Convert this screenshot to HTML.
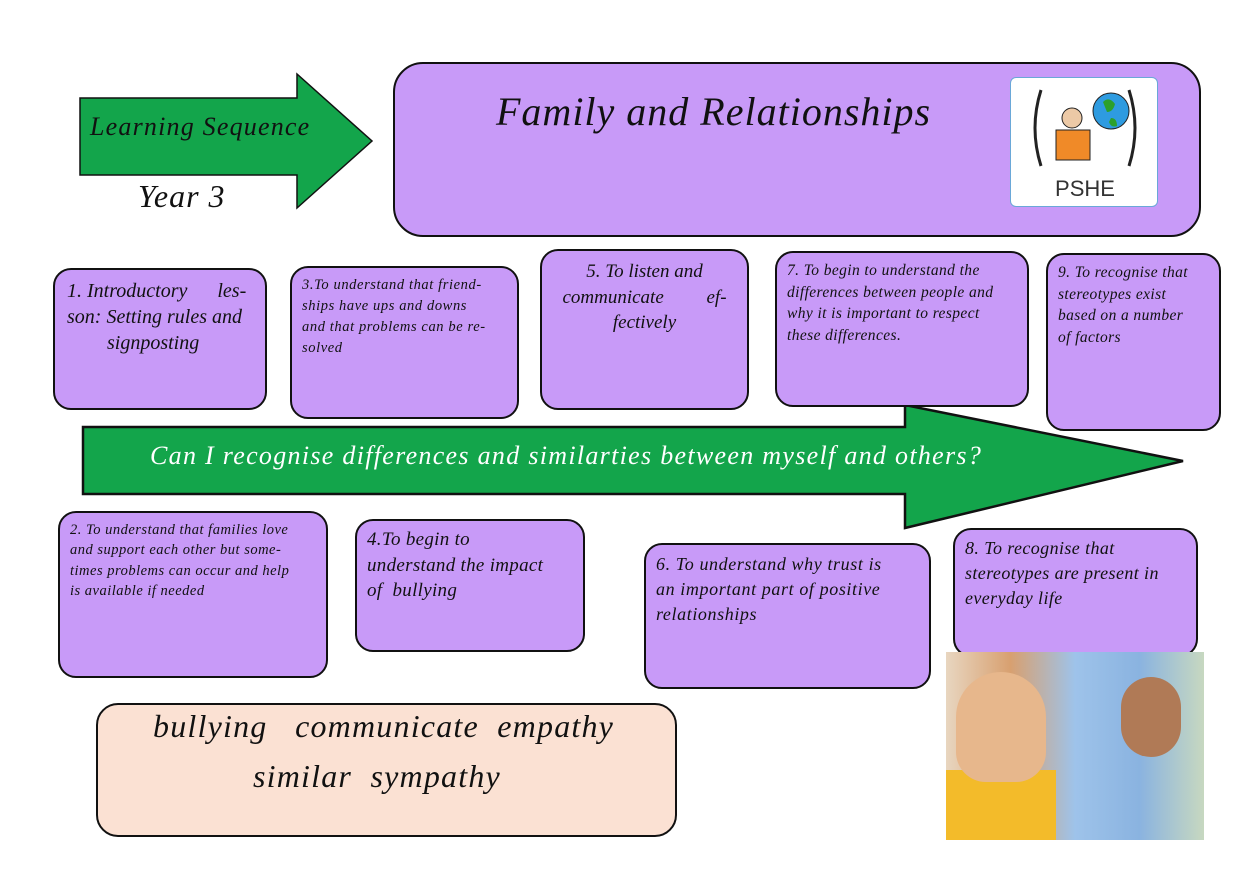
<!DOCTYPE html>
<html><head><meta charset="utf-8"><style>
body{margin:0;width:1260px;height:891px;background:#fff;position:relative;overflow:hidden;font-family:"Liberation Serif",serif;font-style:italic;}
.b{position:absolute;background:#c89af8;border:2.5px solid #111;border-radius:18px;box-sizing:border-box;color:#111;line-height:1.45;white-space:nowrap;}
.t{position:absolute;white-space:nowrap;}
</style></head><body>
<svg width="1260" height="891" style="position:absolute;left:0;top:0">
<polygon points="80,98 297,98 297,74 372,141 297,208 297,175 80,175" fill="#13a54b" stroke="#111" stroke-width="1.5"/>
<polygon points="83,427 905,427 905,405 1183,461 905,528 905,494 83,494" fill="#13a54b" stroke="#111" stroke-width="2.5"/>
</svg>
<div class="t" style="left:90px;top:112px;font-size:26px;letter-spacing:1.2px;color:#111">Learning Sequence</div>
<div class="t" style="left:138px;top:178px;font-size:32px;letter-spacing:1px;color:#111">Year 3</div>
<div class="b" style="left:393px;top:62px;width:808px;height:175px;border-radius:30px;"></div>
<div class="t" style="left:496px;top:88px;font-size:40px;letter-spacing:1px;color:#111">Family and Relationships</div>
<div style="position:absolute;left:1010px;top:77px;width:148px;height:130px;background:#fff;border:1px solid #6aa8d8;border-radius:6px;box-sizing:border-box">
<svg width="148" height="130"><path d="M30,12 Q18,50 30,88" stroke="#222" stroke-width="3" fill="none"/><path d="M118,12 Q130,50 118,88" stroke="#222" stroke-width="3" fill="none"/>
<circle cx="61" cy="40" r="10" fill="#ecc9a6" stroke="#222"/><rect x="45" y="52" width="34" height="30" fill="#f08a28" stroke="#222"/>
<circle cx="100" cy="33" r="18" fill="#2e9be0" stroke="#222"/><path d="M92,24 q6,-6 12,2 q-2,8 -8,8z M100,40 q6,0 6,8 q-6,2 -8,-4z" fill="#2ca02c"/>
<text x="74" y="118" font-family="Liberation Sans,sans-serif" font-style="normal" font-size="22" fill="#333" text-anchor="middle">PSHE</text></svg></div>
<div class="b" style="left:53px;top:268px;width:214px;height:142px;padding:8px 12px;font-size:20px;line-height:1.3">1. Introductory &nbsp; &nbsp; &nbsp;les-<br>son: Setting rules and<br><span style="margin-left:40px">signposting</span></div>
<div class="b" style="left:290px;top:266px;width:229px;height:153px;padding:7px 10px;font-size:14.5px;line-height:1.45;letter-spacing:0.6px">3.To understand that friend-<br>ships have ups and downs<br>and that problems can be re-<br>solved</div>
<div class="b" style="left:540px;top:249px;width:209px;height:161px;padding:8px 12px;font-size:19px;line-height:1.35;text-align:center">5. To listen and<br>communicate &nbsp; &nbsp; &nbsp; &nbsp; ef-<br>fectively</div>
<div class="b" style="left:775px;top:251px;width:254px;height:156px;padding:7px 10px;font-size:15.5px;line-height:1.4;letter-spacing:0.4px">7. To begin to understand the<br>differences between people and<br>why it is important to respect<br>these differences.</div>
<div class="b" style="left:1046px;top:253px;width:175px;height:178px;padding:7px 10px;font-size:15.5px;line-height:1.4;letter-spacing:0.4px">9. To recognise that<br>stereotypes exist<br>based on a number<br>of factors</div>
<div class="t" style="left:150px;top:441px;font-size:26px;letter-spacing:1.3px;color:#fff">Can I recognise differences and similarties between myself and others?</div>
<div class="b" style="left:58px;top:511px;width:270px;height:167px;padding:7px 10px;font-size:14.5px;line-height:1.4;letter-spacing:0.5px">2. To understand that families love<br>and support each other but some-<br>times problems can occur and help<br>is available if needed</div>
<div class="b" style="left:355px;top:519px;width:230px;height:133px;padding:6px 10px;font-size:19px;line-height:1.35;letter-spacing:0.3px">4.To begin to<br>understand the impact<br>of &nbsp;bullying</div>
<div class="b" style="left:644px;top:543px;width:287px;height:146px;padding:7px 10px;font-size:18px;line-height:1.4;letter-spacing:0.6px">6. To understand why trust is<br>an important part of positive<br>relationships</div>
<div class="b" style="left:953px;top:528px;width:245px;height:129px;padding:6px 10px;font-size:18px;line-height:1.4;letter-spacing:0.4px">8. To recognise that<br>stereotypes are present in<br>everyday life</div>
<div style="position:absolute;left:946px;top:652px;width:258px;height:188px;background:linear-gradient(90deg,#e8d6c0 0%,#d8a070 25%,#9ec3ea 50%,#8ab3e0 75%,#c7d8c0 100%)">
<div style="position:absolute;left:0;bottom:0;width:110px;height:70px;background:#f3bb2a"></div>
<div style="position:absolute;left:10px;top:20px;width:90px;height:110px;background:#e7b78c;border-radius:45px 45px 30px 30px"></div>
<div style="position:absolute;left:175px;top:25px;width:60px;height:80px;background:#b07a56;border-radius:30px"></div>
</div>
<div class="b" style="left:96px;top:703px;width:581px;height:134px;background:#fbe1d3;border-radius:22px;font-size:32px;line-height:1.2">
<div class="t" style="left:55px;top:2px;letter-spacing:1.2px">bullying &nbsp; communicate &nbsp;empathy</div>
<div class="t" style="left:155px;top:52px;letter-spacing:1.2px">similar &nbsp;sympathy</div></div>
</body></html>
